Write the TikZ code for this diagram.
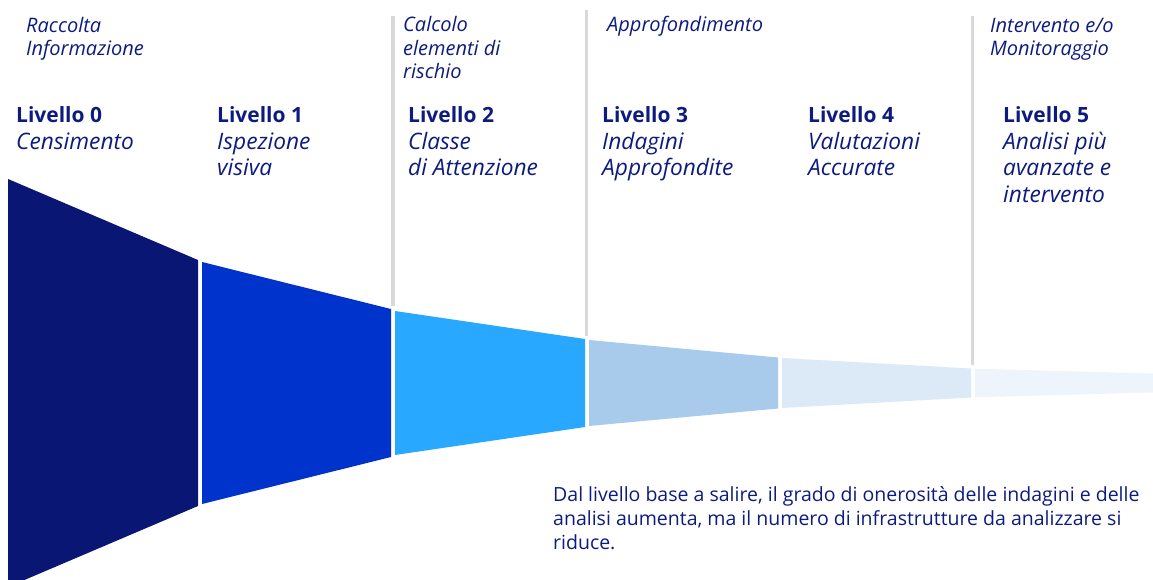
\documentclass[tikz,border=0pt]{standalone}
\usepackage{fontspec}
\setmainfont{Open Sans}
\usetikzlibrary{positioning}

\definecolor{textnavy}{HTML}{0D1B7E}
\definecolor{lvlA}{HTML}{0A1673}
\definecolor{lvlB}{HTML}{0033CC}
\definecolor{lvlC}{HTML}{29A8FF}
\definecolor{lvlD}{HTML}{A8CAEB}
\definecolor{lvlE}{HTML}{DCE9F6}
\definecolor{lvlF}{HTML}{EEF4FB}
\definecolor{sepgray}{HTML}{D9D9D9}
\newcommand{\lvtitle}[1]{{\upshape\bfseries\fontsize{21}{26.5}\selectfont #1}}

\begin{document}
\begin{tikzpicture}[x=1pt, y=-1pt,
		lbl/.style={anchor=base west, inner sep=0, align=left, text=textnavy},
		lvl/.style={lbl, font=\fontsize{22.7}{26.5}\selectfont\itshape},
		phase/.style={lbl, font=\fontsize{20}{23.5}\selectfont\itshape},
		sepline/.style={draw=sepgray, line width=3.5pt}]
	\useasboundingbox (0,0) rectangle (1153,580);
	% funnel, one slice per level
	\foreach \xa/\ha/\xb/\hb/\col in {8/204/198/123/lvlA, 202/121/391/74/lvlB,
			395/72/585/44/lvlC, 589/43/778/25.5/lvlD, 782/25/971/14.5/lvlE,
			975/14.3/1153/9.5/lvlF}
		\fill[\col] (\xa,383-\ha) -- (\xb,383-\hb) -- (\xb,383+\hb) -- (\xa,383+\ha) -- cycle;
	\draw[sepline] (393,16) -- (393,306);
	\draw[sepline] (586.5,10) -- (586.5,336);
	\draw[sepline] (972.5,16) -- (972.5,365);
	% phases (anchored on their last line)
	\node[phase] (ph0) at (26,56)   {Raccolta\\Informazione};
	\node[phase] (ph2) at (403,79)  {Calcolo\\elementi di\\rischio};
	\node[phase] (ph3) at (607,32)  {Approfondimento};
	\node[phase] (ph5) at (990,56)  {Intervento e/o\\Monitoraggio};
	% levels (anchored on their last line)
	\node[lvl] (lv0) at (16,149.5)  {\lvtitle{Livello 0}\\Censimento};
	\node[lvl] (lv1) at (217,176)   {\lvtitle{Livello 1}\\Ispezione\\visiva};
	\node[lvl] (lv2) at (408,176)   {\lvtitle{Livello 2}\\Classe\\di Attenzione};
	\node[lvl] (lv3) at (602,176)   {\lvtitle{Livello 3}\\Indagini\\Approfondite};
	\node[lvl] (lv4) at (808,176)   {\lvtitle{Livello 4}\\Valutazioni\\Accurate};
	\node[lvl] (lv5) at (1003,202.5) {\lvtitle{Livello 5}\\Analisi più\\avanzate e\\intervento};
	\node[lbl, font=\fontsize{19.5}{24}\selectfont] (note) at (553,549)
		{Dal livello base a salire, il grado di onerosità delle indagini e delle\\
		 analisi aumenta, ma il numero di infrastrutture da analizzare si\\
		 riduce.};
\end{tikzpicture}
\end{document}
